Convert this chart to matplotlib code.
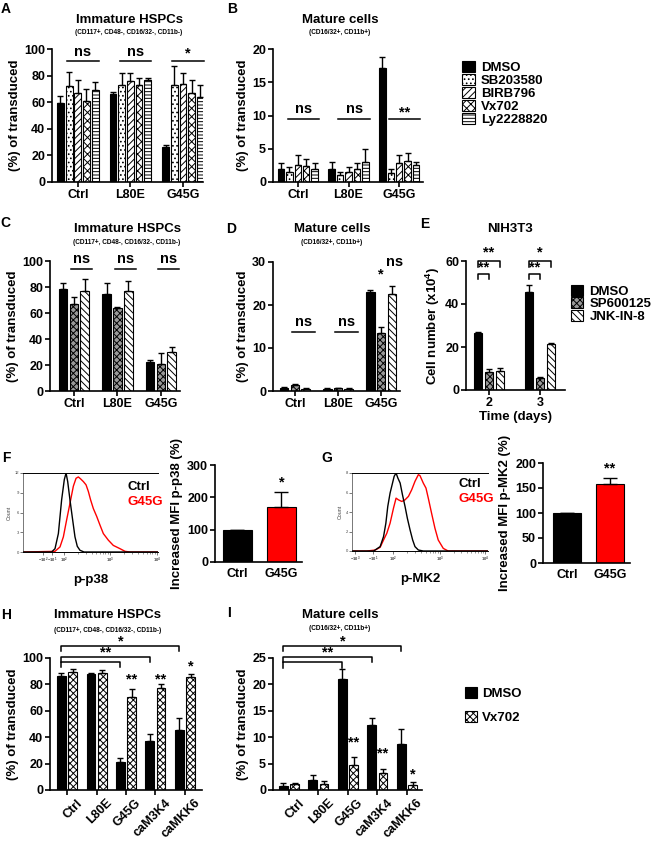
import matplotlib
matplotlib.use('Agg')
import matplotlib.pyplot as plt
from matplotlib.patches import Patch
from matplotlib.transforms import ScaledTranslation
import numpy as np

plt.rcParams['font.family'] = ['Liberation Sans', 'DejaVu Sans']
plt.rcParams['font.weight'] = 'bold'
plt.rcParams['axes.labelweight'] = 'bold'
plt.rcParams['hatch.linewidth'] = 0.7
plt.rcParams['mathtext.fontset'] = 'custom'
plt.rcParams['mathtext.bf'] = 'Liberation Sans:bold'
plt.rcParams['mathtext.rm'] = 'Liberation Sans:bold'

# ---------------- data ----------------
groups3 = ['Ctrl', 'L80E', 'G45G']
p38_inhibitors = ['DMSO', 'SB203580', 'BIRB796', 'Vx702', 'Ly2228820']
# rows = groups, cols = inhibitors
a_mean = [[59.5, 72, 67, 61, 69], [66, 73, 76, 73, 77], [26, 73, 74, 67, 64]]
a_err = [[5.5, 11, 10, 9, 6], [2, 9, 6, 5, 1], [2, 14, 8, 10, 9]]
b_mean = [[2.0, 1.5, 2.6, 2.4, 1.9], [2.0, 1.1, 1.5, 2.0, 3.0], [17.2, 1.4, 2.8, 3.1, 2.5]]
b_err = [[0.9, 0.7, 1.4, 1.1, 0.9], [1.0, 0.4, 0.8, 0.8, 1.9], [1.6, 0.6, 1.3, 1.2, 0.5]]

jnk_inhibitors = ['DMSO', 'SP600125', 'JNK-IN-8']
c_mean = [[78.5, 67, 77], [74.6, 64, 77], [22.5, 21, 30]]
c_err = [[4.5, 5.5, 9], [8.5, 1, 8], [1.5, 8, 4]]
d_mean = [[0.6, 1.3, 0.5], [0.4, 0.6, 0.5], [23.1, 13.6, 22.5]]
d_err = [[0.3, 0.3, 0.2], [0.2, 0.2, 0.2], [0.5, 1.2, 2.0]]

e_days = ['2', '3']
e_mean = [[26.5, 8.5, 8.8], [45.6, 5.8, 21.4]]
e_err = [[0.6, 1.3, 1.4], [3.1, 0.3, 0.5]]

# flow histograms (channel position 0-100 on display axis, count)
f_ctrl_x = [0, 21.2, 23.7, 26.2, 28.6, 30.6, 31.9, 33.1, 34.8, 36.8, 38.5, 40.2, 42.2, 45.2, 100]
f_ctrl_y = [0, 0, 0.5, 2.8, 7.9, 11.0, 12.0, 10.7, 7.9, 4.85, 2.3, 0.87, 0.26, 0, 0]
f_g45g_x = [0, 23.7, 27.4, 29.9, 32.3, 34.8, 37.3, 39.3, 41.0, 42.7, 44.7, 46.7, 48.4, 50.1,
            52.1, 54.6, 57.0, 59.5, 63.2, 66.9, 71.9, 75.6, 79.3, 100]
f_g45g_y = [0, 0.1, 0.77, 2.3, 4.85, 7.4, 10.0, 11.2, 11.4, 11.1, 10.7, 10.2, 9.2, 7.9,
            6.6, 5.4, 4.1, 2.8, 1.8, 1.0, 0.5, 0.1, 0, 0]
g_ctrl_x = [0, 15.9, 20.7, 23.2, 24.9, 26.3, 28.0, 29.8, 31.0, 32.4, 33.7, 35.4, 37.1, 39.0,
            40.7, 42.7, 44.6, 46.3, 48.8, 52.4, 100]
g_ctrl_y = [0, 0, 0.45, 1.48, 2.85, 4.57, 5.94, 6.97, 7.66, 8.0, 7.49, 6.97, 5.77, 4.57,
            3.36, 2.16, 1.13, 0.45, 0.1, 0, 0]
g_g45g_x = [0, 11.0, 17.1, 20.7, 23.2, 25.6, 28.0, 30.5, 32.4, 34.1, 36.6, 39.0, 41.5, 43.9,
            46.3, 48.8, 50.0, 52.4, 54.4, 56.1, 58.5, 61.0, 63.4, 67.1, 70.7, 100]
g_g45g_y = [0, 0, 0.1, 0.38, 1.13, 1.82, 2.85, 4.39, 5.42, 5.25, 5.08, 5.25, 5.6, 6.28,
            7.14, 7.83, 7.73, 6.97, 6.45, 5.42, 3.88, 2.33, 1.13, 0.27, 0, 0]
f_mfi = [100, 171]
f_mfi_err = [0, 47]
g_mfi = [100, 158]
g_mfi_err = [0, 12]
mfi_groups = ['Ctrl', 'G45G']

groups5 = ['Ctrl', 'L80E', 'G45G', 'caM3K4', 'caMKK6']
hi_treat = ['DMSO', 'Vx702']
h_dmso = [86.4, 87.7, 21.4, 37, 45.3]
h_dmso_err = [2.6, 1.0, 2.5, 5.3, 8.9]
h_vx = [89.7, 88.9, 70.5, 77.6, 85.6]
h_vx_err = [1.7, 1.8, 5.8, 2.5, 2.6]
i_dmso = [0.76, 1.9, 21.0, 12.3, 8.7]
i_dmso_err = [0.5, 0.9, 1.9, 1.4, 2.8]
i_vx = [1.07, 1.07, 4.7, 3.3, 0.94]
i_vx_err = [0.2, 0.6, 1.5, 0.6, 0.5]

# ---------------- styles ----------------
W, H = 652, 841
fig = plt.figure(figsize=(W / 100, H / 100), dpi=100)
FS = 9

p38_styles = [dict(facecolor='black', hatch=None),
              dict(facecolor='white', hatch='....'),
              dict(facecolor='white', hatch='/////'),
              dict(facecolor='white', hatch='xxxx'),
              dict(facecolor='white', hatch='-----')]
jnk_styles = [dict(facecolor='black', hatch=None),
              dict(facecolor='#9a9a9a', hatch='xxxxx'),
              dict(facecolor='white', hatch='\\\\\\\\\\')]
hi_styles = [dict(facecolor='black', hatch=None),
             dict(facecolor='white', hatch='xxxxx')]


def add_ax(l, t, r, b):
    return fig.add_axes([l / W, 1 - b / H, (r - l) / W, (b - t) / H])


def ftext(x, y, s, size=FS, ha='center', **kw):
    fig.text(x / W, 1 - y / H, s, ha=ha, va='center', fontsize=size, fontweight='bold', **kw)


def style(ax, lw=1.2):
    for s in ['top', 'right']:
        ax.spines[s].set_visible(False)
    for s in ['left', 'bottom']:
        ax.spines[s].set_linewidth(lw)
    ax.tick_params(direction='out', length=3.5, width=lw, labelsize=FS, pad=1.5)
    for lab in ax.get_xticklabels() + ax.get_yticklabels():
        lab.set_fontweight('bold')


def grouped(ax, means, errs, styles, step, width):
    ng = len(means)
    ns_ = len(means[0])
    for j in range(ns_):
        x = np.arange(ng) + (j - (ns_ - 1) / 2) * step
        vals = [means[g][j] for g in range(ng)]
        ev = [errs[g][j] for g in range(ng)]
        ax.bar(x, vals, width, edgecolor='black', linewidth=0.8, zorder=2, **styles[j])
        ax.errorbar(x, vals, yerr=[np.zeros(ng), ev], fmt='none', ecolor='black',
                    elinewidth=1, capsize=2, capthick=1, zorder=3)


def sigline(ax, x0, x1, y, txt, ty, size=10.5):
    ax.plot([x0, x1], [y, y], color='black', lw=1.1, clip_on=False)
    ax.text((x0 + x1) / 2, ty, txt, ha='center', va='center', fontsize=size, fontweight='bold')


# ---------------- Panel A ----------------
ax = add_ax(52, 49, 203, 182)
grouped(ax, a_mean, a_err, p38_styles, 0.165, 0.13)
ax.set_xlim(-0.49, 2.38)
ax.set_ylim(0, 100)
ax.set_yticks([0, 20, 40, 60, 80, 100])
ax.set_xticks(range(3))
ax.set_xticklabels(groups3)
ax.set_ylabel('(%) of transduced', fontsize=9.5, labelpad=2)
style(ax)
for g, t, ty in zip(range(3), ['ns', 'ns', '*'], [98, 98, 96.5]):
    sigline(ax, g - 0.2, g + 0.4, 91, t, ty)
ftext(129, 20, 'Immature HSPCs', size=9.5)
ftext(129, 32, '(CD117+, CD48-, CD16/32-, CD11b-)', size=4.7)
ftext(6, 9, 'A', size=10)

# ---------------- Panel B ----------------
ax = add_ax(273, 49, 423, 182)
grouped(ax, b_mean, b_err, p38_styles, 0.165, 0.13)
ax.set_xlim(-0.49, 2.47)
ax.set_ylim(0, 20)
ax.set_yticks([0, 5, 10, 15, 20])
ax.set_xticks(range(3))
ax.set_xticklabels(groups3)
ax.set_ylabel('(%) of transduced', fontsize=9.5, labelpad=2)
style(ax)
for g, t, ty in zip(range(3), ['ns', 'ns', '**'], [11.0, 11.0, 10.5]):
    sigline(ax, g - 0.2, g + 0.42, 9.5, t, ty)
ftext(340, 20, 'Mature cells', size=9.5)
ftext(340, 32, '(CD16/32+, CD11b+)', size=4.7)
ftext(232, 9, 'B', size=10)
fig.legend([Patch(edgecolor='black', linewidth=0.8, **s) for s in p38_styles], p38_inhibitors,
           loc='upper left', bbox_to_anchor=(462 / W, 1 - 61 / H), frameon=False,
           handlelength=0.95, handleheight=0.95, handletextpad=0.5, labelspacing=-0.02,
           borderpad=0, borderaxespad=0, prop=dict(size=9.5, weight='bold'))

# ---------------- Panel C ----------------
ax = add_ax(50, 261, 180, 391)
grouped(ax, c_mean, c_err, jnk_styles, 0.25, 0.2)
ax.set_xlim(-0.55, 2.44)
ax.set_ylim(0, 100)
ax.set_yticks([0, 20, 40, 60, 80, 100])
ax.set_xticks(range(3))
ax.set_xticklabels(groups3)
ax.set_ylabel('(%) of transduced', fontsize=9.5, labelpad=2)
style(ax)
for g in range(3):
    sigline(ax, g - 0.06, g + 0.42, 94, 'ns', 101.5)
ftext(127, 229, 'Immature HSPCs', size=9.5)
ftext(127, 243, '(CD117+, CD48-, CD16/32-, CD11b-)', size=4.7)
ftext(5, 223, 'C', size=10)

# ---------------- Panel D ----------------
ax = add_ax(273, 262, 400, 391)
grouped(ax, d_mean, d_err, jnk_styles, 0.25, 0.2)
ax.set_xlim(-0.51, 2.44)
ax.set_ylim(0, 30)
ax.set_yticks([0, 10, 20, 30])
ax.set_xticks(range(3))
ax.set_xticklabels(groups3)
ax.set_ylabel('(%) of transduced', fontsize=9.5, labelpad=2)
style(ax)
for g in range(2):
    sigline(ax, g - 0.06, g + 0.46, 13.7, 'ns', 16.0)
ax.text(2, 27.0, '*', ha='center', va='center', fontsize=10.5, fontweight='bold')
ax.text(2.32, 30.0, 'ns', ha='center', va='center', fontsize=10.5, fontweight='bold', clip_on=False)
ftext(332, 229, 'Mature cells', size=9.5)
ftext(332, 243, '(CD16/32+, CD11b+)', size=4.7)
ftext(231, 229, 'D', size=10)

# ---------------- Panel E ----------------
ax = add_ax(466, 261, 565, 390)
grouped(ax, e_mean, e_err, jnk_styles, 0.21, 0.15)
ax.set_xlim(-0.45, 1.49)
ax.set_ylim(0, 60)
ax.set_yticks([0, 20, 40, 60])
ax.set_xticks(range(2))
ax.set_xticklabels(e_days)
ax.set_ylabel('Cell number (x10$^{4}$)', fontsize=9.5, labelpad=2)
ax.set_xlabel('Time (days)', fontsize=9.5, labelpad=1.5)
style(ax)
for g, (t_top, t_low) in enumerate([('**', '**'), ('*', '**')]):
    x0 = g - 0.21
    for xe, yl, tip, txt, ty in [(g + 0.21, 60, 57, t_top, 63.8), (g, 54, 51.5, t_low, 57.0)]:
        ax.plot([x0, x0, xe, xe], [tip, yl, yl, tip], color='black', lw=1.1, clip_on=False)
        ax.text((x0 + xe) / 2, ty, txt, ha='center', va='center', fontsize=10.5, fontweight='bold')
ftext(510, 229, 'NIH3T3', size=9.5)
ftext(425, 224, 'E', size=10)
fig.legend([Patch(edgecolor='black', linewidth=0.8, **s) for s in jnk_styles], jnk_inhibitors,
           loc='upper left', bbox_to_anchor=(571 / W, 1 - 285 / H), frameon=False,
           handlelength=0.9, handleheight=0.9, handletextpad=0.5, labelspacing=-0.05,
           borderpad=0, borderaxespad=0, prop=dict(size=9.5, weight='bold'))


# ---------------- Histograms F, G ----------------
def histo(box, cx, cy, rx, ry, ymax, yticks, xtick_pos, xtick_lab, xlabel):
    ax = add_ax(*box)
    ax.plot(cx, cy, color='black', lw=1.0, zorder=3)
    ax.plot(rx, ry, color='#ff0000', lw=1.0, zorder=2)
    ax.set_xlim(0, 100)
    ax.set_ylim(0, ymax)
    ax.spines['right'].set_visible(False)
    for s in ['left', 'top', 'bottom']:
        ax.spines[s].set_linewidth(0.7)
    ax.spines['left'].set_color('#777777')
    ax.set_yticks(yticks)
    ax.set_yticklabels([str(v) for v in yticks])
    ax.set_xticks(xtick_pos)
    ax.set_xticklabels(xtick_lab)
    minors = []
    for d0, d1 in [(xtick_pos[2], xtick_pos[3]), (xtick_pos[3], xtick_pos[4])]:
        for k in range(2, 10):
            minors.append(d0 + (d1 - d0) * np.log10(k))
    ax.set_xticks(minors, minor=True)
    ax.tick_params(axis='both', which='major', direction='out', length=2, width=0.5,
                   labelsize=3, pad=1, colors='#444444')
    ax.tick_params(axis='x', which='minor', direction='out', length=1.2, width=0.4, colors='#444444')
    for lab in ax.get_xticklabels() + ax.get_yticklabels():
        lab.set_fontweight('normal')
    ax.set_ylabel('Count', fontsize=3.8, fontweight='normal', color='#444444', labelpad=2)
    ax.set_xlabel(xlabel, fontsize=9.5, labelpad=6)
    return ax


histo((23, 473, 158, 552), f_ctrl_x, f_ctrl_y, f_g45g_x, f_g45g_y, 12, [0, 3, 6, 9, 12],
      [14.8, 21.5, 30.4, 64.4, 99.3], ['$-10^2$', '$-10^1$', '$10^2$', '$10^3$', '$10^4$'], 'p-p38')
ftext(127, 487, 'Ctrl', size=9.5, ha='left')
ftext(127, 502, 'G45G', size=9.5, ha='left', color='#ff0000')
ftext(6, 458, 'F', size=10)

histo((352, 473, 488, 551), g_ctrl_x, g_ctrl_y, g_g45g_x, g_g45g_y, 8, [0, 2, 4, 6, 8],
      [2.2, 15.4, 30.1, 64.7, 97.8], ['$-10^3$', '$-10^1$', '$10^2$', '$10^3$', '$10^4$'], 'p-MK2')
ftext(458, 484, 'Ctrl', size=9.5, ha='left')
ftext(458, 499, 'G45G', size=9.5, ha='left', color='#ff0000')
ftext(327, 458, 'G', size=10)


def mfi_bar(box, vals, errs, ymax, yticks, ylabel, star, ylim_l, ylim_r):
    ax = add_ax(*box)
    ax.bar(range(2), vals, 0.66, color=['black', '#ff0000'], edgecolor='black', linewidth=0.8, zorder=2)
    ax.errorbar(range(2), vals, yerr=[np.zeros(2), errs], fmt='none', ecolor='black',
                elinewidth=1, capsize=5, capthick=1, zorder=3)
    ax.set_xlim(ylim_l, ylim_r)
    ax.set_ylim(0, ymax)
    ax.set_yticks(yticks)
    ax.set_xticks(range(2))
    ax.set_xticklabels(mfi_groups)
    ax.set_ylabel(ylabel, fontsize=9.5, labelpad=3)
    style(ax)
    ax.tick_params(axis='x', length=0, pad=4)
    ax.text(1, vals[1] + errs[1] + ymax * 0.095, star, ha='center', va='center', fontsize=10.5,
            fontweight='bold')
    return ax


mfi_bar((215, 465, 302, 562), f_mfi, f_mfi_err, 300, [0, 100, 200, 300],
        'Increased MFI p-p38 (%)', '*', -0.51, 1.47)
mfi_bar((543, 463, 630, 563), g_mfi, g_mfi_err, 200, [0, 50, 100, 150, 200],
        'Increased MFI p-MK2 (%)', '**', -0.56, 1.47)


# ---------------- Panels H, I ----------------
def hi_panel(box, dmso, dmso_e, vx, vx_e, ymax, yticks, xl, stars, star_y, brackets, tipl):
    ax = add_ax(*box)
    means = [[dmso[i], vx[i]] for i in range(5)]
    errs = [[dmso_e[i], vx_e[i]] for i in range(5)]
    grouped(ax, means, errs, hi_styles, 0.38, 0.3)
    ax.set_xlim(*xl)
    ax.set_ylim(0, ymax)
    ax.set_yticks(yticks)
    ax.set_xticks(range(5))
    ax.set_xticklabels(groups5, rotation=45, ha='right', rotation_mode='anchor')
    ax.set_ylabel('(%) of transduced', fontsize=9.5, labelpad=2)
    style(ax)
    shift = ScaledTranslation(9 / 100, 0, fig.dpi_scale_trans)
    for lab in ax.get_xticklabels():
        lab.set_transform(lab.get_transform() + shift)
    for g, (s, y) in enumerate(zip(stars, star_y)):
        if s:
            ax.text(g + 0.19, y, s, ha='center', va='center', fontsize=10.5, fontweight='bold')
    x0 = -0.19
    for gend, yl, txt, ty in brackets:
        xe = gend - 0.19
        ax.plot([x0, x0, xe, xe], [yl - tipl, yl, yl, yl - tipl], color='black', lw=1.1, clip_on=False)
        if txt:
            ax.text((x0 + xe) / 2, ty, txt, ha='center', va='center', fontsize=10.5,
                    fontweight='bold', clip_on=False)
    return ax


hi_panel((50, 658, 202, 790), h_dmso, h_dmso_err, h_vx, h_vx_err, 100, [0, 20, 40, 60, 80, 100],
         (-0.58, 4.58), ['', '', '**', '**', '*'], [0, 0, 84, 84, 93.5],
         [(4, 109, '*', 112.5), (3, 100.6, '**', 104), (2, 96.9, '', 0)], 4)
ftext(108, 615, 'Immature HSPCs', size=9.5)
ftext(108, 630, '(CD117+, CD48-, CD16/32-, CD11b-)', size=4.7)
ftext(6, 615, 'H', size=10)

hi_panel((273, 658, 422, 790), i_dmso, i_dmso_err, i_vx, i_vx_err, 25, [0, 5, 10, 15, 20, 25],
         (-0.54, 4.51), ['', '', '**', '**', '*'], [0, 0, 9.0, 7.0, 3.0],
         [(4, 27.3, '*', 28.2), (3, 25.2, '**', 26.0), (2, 24.2, '', 0)], 1)
ftext(340, 615, 'Mature cells', size=9.5)
ftext(340, 629, '(CD16/32+, CD11b+)', size=4.7)
ftext(229, 613, 'I', size=10)
fig.legend([Patch(edgecolor='black', linewidth=0.8, **s) for s in hi_styles], hi_treat,
           loc='upper left', bbox_to_anchor=(465 / W, 1 - 687 / H), frameon=False,
           handlelength=0.9, handleheight=0.9, handletextpad=0.4, labelspacing=0.85,
           borderpad=0, borderaxespad=0, prop=dict(size=9.5, weight='bold'))

fig.savefig('out.png', dpi=100, facecolor='white')
